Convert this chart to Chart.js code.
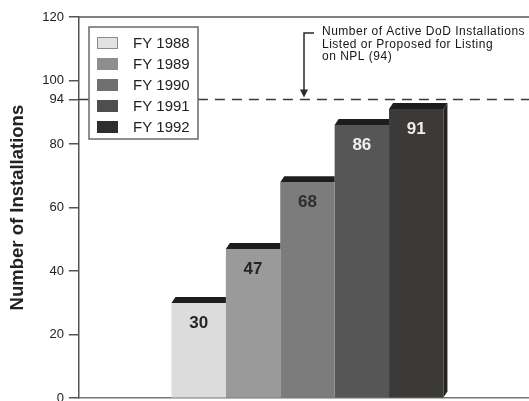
<!DOCTYPE html>
<html>
<head>
<meta charset="utf-8">
<script src="https://cdn.jsdelivr.net/npm/chart.js@4/dist/chart.umd.min.js"></script>
<style>
  html, body { margin: 0; padding: 0; background: #fff; }
  #wrap { width: 529px; height: 401px; overflow: hidden; position: relative; }
  #chart { position: absolute; left: 0; top: 0; }
</style>
</head>
<body>
<div id="wrap"><canvas id="chart" width="536" height="411"></canvas></div>
<script>
// Fiscal years and number of installations
const years = ['FY 1988', 'FY 1989', 'FY 1990', 'FY 1991', 'FY 1992'];
const installations = [30, 47, 68, 86, 91];
// Y axis tick values
const yTicks = [0, 20, 40, 60, 80, 94, 100, 120];
// Active DoD installations listed or proposed for listing on the NPL
const nplTotal = 94;
const noteLines = [
  'Number of Active DoD Installations',
  'Listed or Proposed for Listing',
  'on NPL (94)'
];

const barColors = ['#dcdcdc', '#9a9a9a', '#7c7c7c', '#565656', '#3c3a38'];
const swatchColors = ['#e2e2e2', '#8e8e8e', '#707070', '#4e4e4e', '#2e2e2e'];
const valueLabelColors = ['#262626', '#262626', '#2e2e2e', '#eeeeee', '#eeeeee'];
const FONT = '"Liberation Sans", Arial, Helvetica, sans-serif';
const INK = '#222';
const AXIS = '#555';

const datasets = years.map((y, i) => ({
  label: y,
  data: [installations[i]],
  backgroundColor: barColors[i],
  borderWidth: 0
}));

// Dark 3D top caps, value labels, frame, NPL reference line, legend, note
const decorations = {
  id: 'decorations',
  afterDatasetsDraw(chart) {
    const ctx = chart.ctx;
    const dx = 4, dy = 6;
    const metas = chart.data.datasets.map((d, i) => chart.getDatasetMeta(i));
    ctx.save();
    metas.forEach((meta, i) => {
      const bar = meta.data[0];
      const left = bar.x - bar.width / 2;
      const right = bar.x + bar.width / 2;
      const top = bar.y;
      const last = i === metas.length - 1;
      ctx.fillStyle = '#1d1d1d';
      ctx.beginPath();
      ctx.moveTo(left, top);
      ctx.lineTo(left + dx, top - dy);
      ctx.lineTo(last ? right + dx : right, top - dy);
      ctx.lineTo(right, top);
      ctx.closePath();
      ctx.fill();
      if (last) {
        ctx.fillStyle = '#262422';
        ctx.beginPath();
        ctx.moveTo(right, top);
        ctx.lineTo(right + dx, top - dy);
        ctx.lineTo(right + dx, bar.base - dy);
        ctx.lineTo(right, bar.base);
        ctx.closePath();
        ctx.fill();
      }
    });
    // value labels
    ctx.font = 'bold 17px ' + FONT;
    ctx.textAlign = 'center';
    ctx.textBaseline = 'middle';
    metas.forEach((meta, i) => {
      const bar = meta.data[0];
      ctx.fillStyle = valueLabelColors[i];
      ctx.fillText(String(chart.data.datasets[i].data[0]), bar.x, bar.y + 20);
    });
    ctx.restore();
  },
  afterDraw(chart) {
    const ctx = chart.ctx;
    const area = chart.chartArea;
    const yScale = chart.scales.y;
    ctx.save();

    // top frame line
    ctx.strokeStyle = AXIS;
    ctx.lineWidth = 1.5;
    ctx.beginPath();
    ctx.moveTo(area.left, area.top);
    ctx.lineTo(area.right, area.top);
    ctx.stroke();

    // NPL reference line
    const yRef = yScale.getPixelForValue(nplTotal);
    ctx.strokeStyle = '#3a3a3a';
    ctx.lineWidth = 1.5;
    ctx.setLineDash([10, 7]);
    ctx.beginPath();
    ctx.moveTo(area.left, yRef);
    ctx.lineTo(area.right, yRef);
    ctx.stroke();
    ctx.setLineDash([]);

    // legend box
    const lx = 89, ly = 27, lw = 109, lh = 112;
    ctx.fillStyle = '#fff';
    ctx.fillRect(lx, ly, lw, lh);
    ctx.strokeStyle = '#6a6a6a';
    ctx.lineWidth = 1.5;
    ctx.strokeRect(lx, ly, lw, lh);
    ctx.font = '15px ' + FONT;
    ctx.textAlign = 'left';
    ctx.textBaseline = 'middle';
    chart.data.datasets.forEach((d, i) => {
      const cy = ly + 16 + i * 21;
      ctx.fillStyle = swatchColors[i];
      ctx.fillRect(lx + 8, cy - 6, 21, 12);
      if (i === 0) {
        ctx.strokeStyle = '#8a8a8a';
        ctx.lineWidth = 1;
        ctx.strokeRect(lx + 8.5, cy - 5.5, 20, 11);
      }
      ctx.fillStyle = INK;
      ctx.fillText(d.label, lx + 44, cy + 1);
    });

    // note with bracket arrow down to the reference line
    const ax = 304, bracketY = 33;
    ctx.strokeStyle = '#2a2a2a';
    ctx.lineWidth = 1.5;
    ctx.beginPath();
    ctx.moveTo(ax + 10, bracketY);
    ctx.lineTo(ax, bracketY);
    ctx.lineTo(ax, yRef - 8);
    ctx.stroke();
    ctx.fillStyle = '#2a2a2a';
    ctx.beginPath();
    ctx.moveTo(ax - 4, yRef - 10);
    ctx.lineTo(ax + 4, yRef - 10);
    ctx.lineTo(ax, yRef - 2);
    ctx.closePath();
    ctx.fill();

    ctx.font = '12px ' + FONT;
    if ('letterSpacing' in ctx) ctx.letterSpacing = '0.5px';
    ctx.fillStyle = '#161616';
    noteLines.forEach((t, i) => ctx.fillText(t, 322, 32 + i * 12.5));
    ctx.restore();
  }
};

new Chart(document.getElementById('chart'), {
  type: 'bar',
  data: { labels: [''], datasets },
  options: {
    responsive: false,
    animation: false,
    devicePixelRatio: 1,
    layout: { padding: { top: 17, left: 7, right: 0, bottom: 12 } },
    plugins: { legend: { display: false }, tooltip: { enabled: false } },
    datasets: { bar: { categoryPercentage: 0.595, barPercentage: 1.0 } },
    scales: {
      x: {
        ticks: { display: false },
        grid: { display: true, drawOnChartArea: false, drawTicks: false },
        border: { display: true, color: '#777', width: 1.5 }
      },
      y: {
        min: 0,
        max: 120,
        afterBuildTicks(scale) { scale.ticks = yTicks.map(v => ({ value: v })); },
        ticks: {
          color: INK,
          padding: 5,
          font: { family: FONT, size: 13 }
        },
        grid: { drawOnChartArea: false, drawTicks: true, tickLength: 10, color: AXIS, lineWidth: 1.5 },
        border: { display: true, color: AXIS, width: 1.5 },
        title: {
          display: true,
          text: 'Number of Installations',
          color: INK,
          font: { family: FONT, size: 18.5, weight: 'bold' },
          padding: { top: 0, bottom: 8 }
        }
      }
    }
  },
  plugins: [decorations]
});
</script>
</body>
</html>
